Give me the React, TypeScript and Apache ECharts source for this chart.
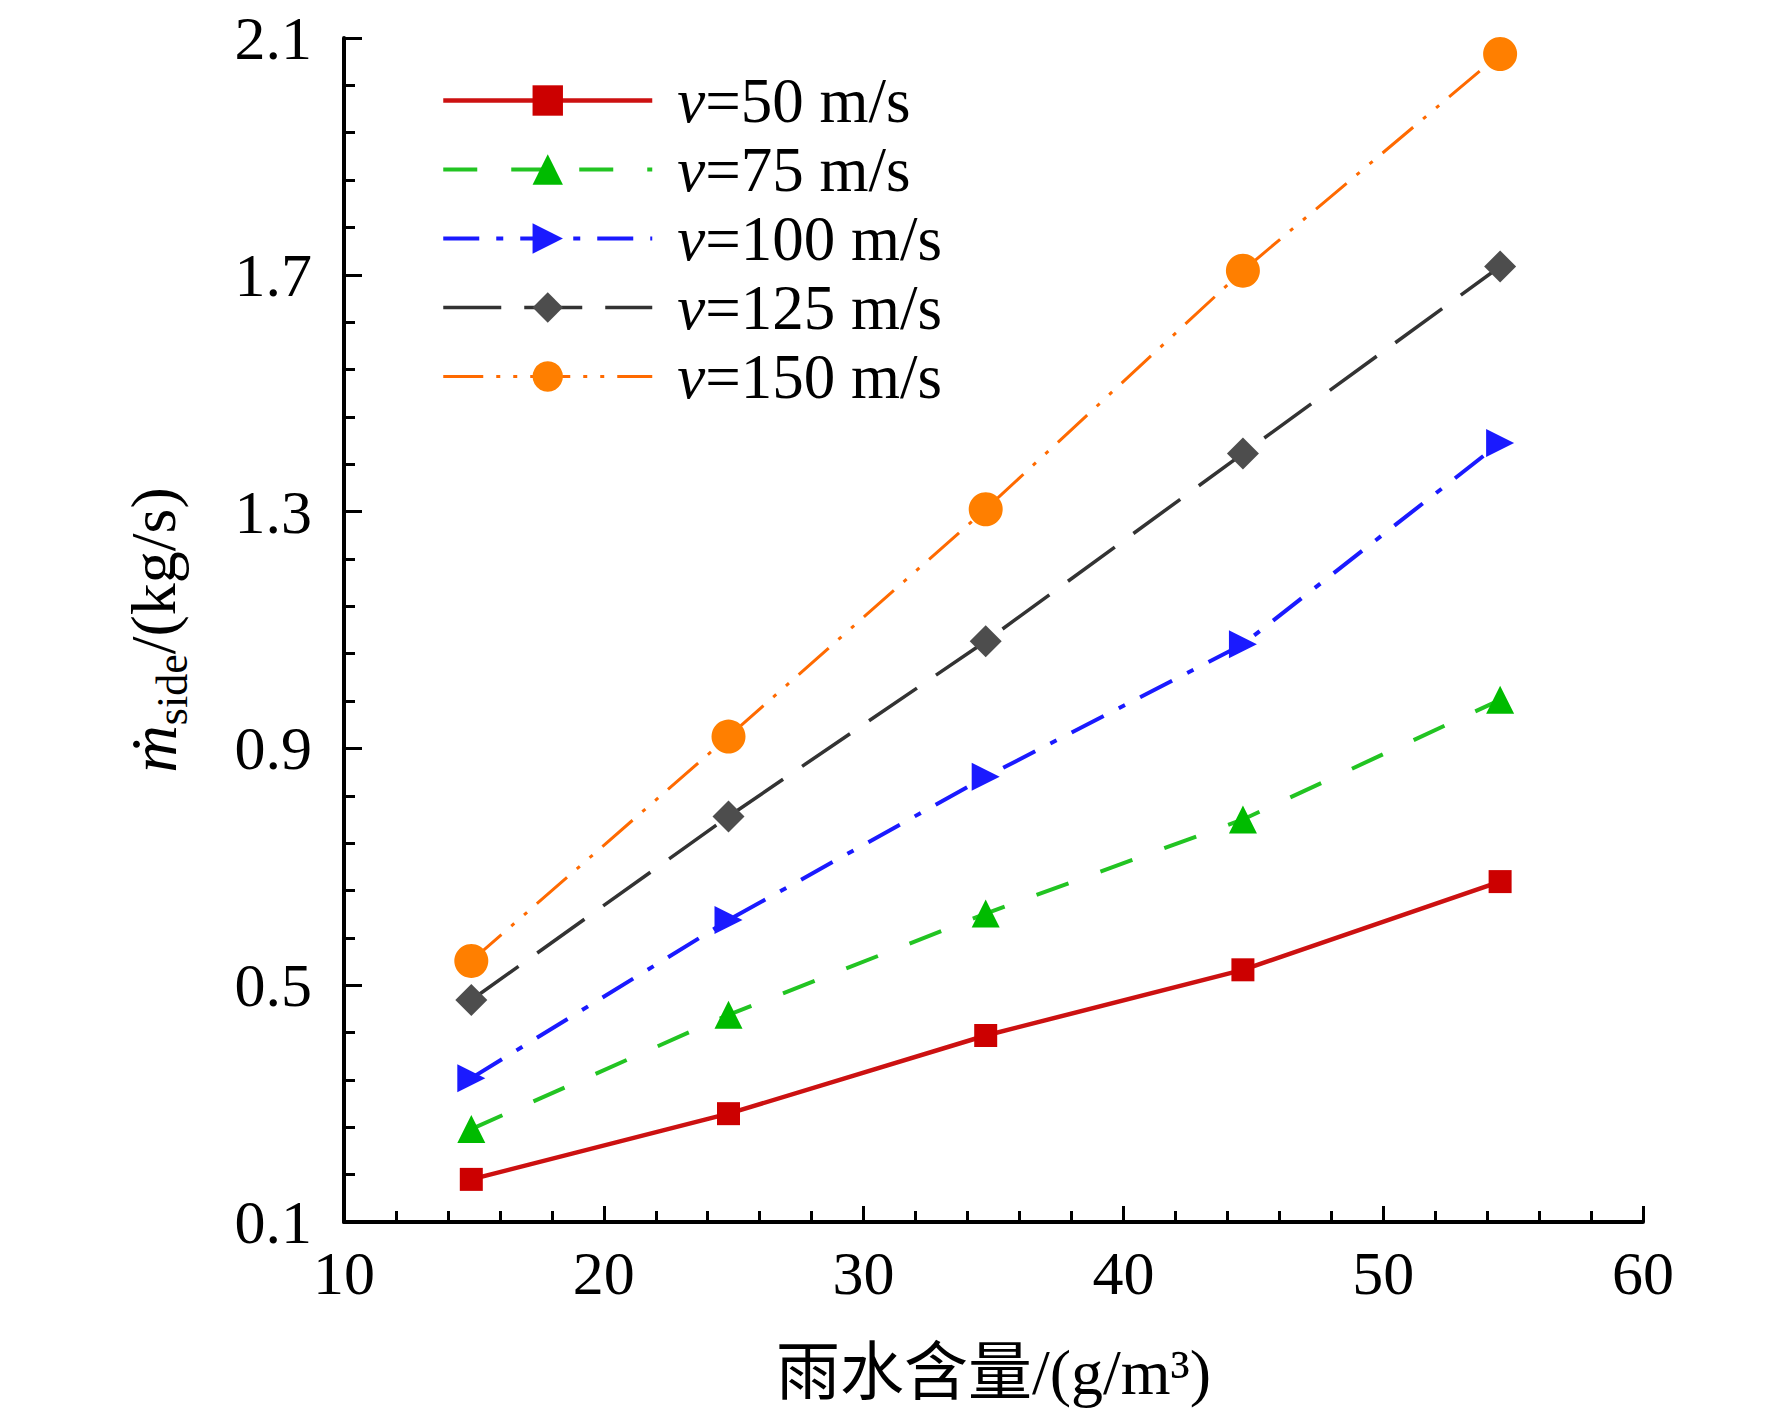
import { useEffect, useRef } from "react"
import * as echarts from "echarts"

// rain water content (g/m3)
const rainContent = [14.9, 24.8, 34.7, 44.6, 54.5]

// side mass flow (kg/s) for each velocity
const flow50 = [0.172, 0.283, 0.415, 0.526, 0.675]
const flow75 = [0.257, 0.45, 0.621, 0.78, 0.982]
const flow100 = [0.343, 0.61, 0.852, 1.076, 1.416]
const flow125 = [0.475, 0.785, 1.081, 1.398, 1.714]
const flow150 = [0.541, 0.92, 1.304, 1.707, 2.073]

const seriesNames = ["v=50 m/s", "v=75 m/s", "v=100 m/s", "v=125 m/s", "v=150 m/s"]

// y axis starts at 0.1, ticks every 0.4
const yStart = 0.1

const SERIF = '"Liberation Serif", "Times New Roman", "DejaVu Serif", serif'
const CJK = '"Liberation Serif", "Noto Sans CJK SC", serif'

export default function App() {
  const chartRef = useRef<HTMLDivElement>(null)

  useEffect(() => {
    if (!chartRef.current) return
    const chart = echarts.init(chartRef.current, undefined, { renderer: "svg" })

    const toData = (vals: number[]) => rainContent.map((x, i) => [x, vals[i] - yStart])

    const styles = [
      { data: flow50, color: "#cc0000", line: "#cc1111", symbol: "rect", size: 23, rotate: 0, type: "solid" as any, width: 4.5 },
      { data: flow75, color: "#00bb00", line: "#22c422", symbol: "triangle", size: 28, rotate: 0, type: [34, 34], width: 4 },
      { data: flow100, color: "#1a1aff", line: "#1a1aff", symbol: "triangle", size: 28, rotate: -90, type: [36, 17, 7, 17], width: 4 },
      { data: flow125, color: "#4d4d4d", line: "#333333", symbol: "diamond", size: 32, rotate: 0, type: [58, 23], width: 3.5 },
      { data: flow150, color: "#ff7f00", line: "#ff6a00", symbol: "circle", size: 34, rotate: 0, type: [40, 13, 4, 13, 4, 13], width: 3 },
    ]

    const options: echarts.EChartsOption = {
      animation: false,
      backgroundColor: "#ffffff",
      grid: { left: 344, right: 129, top: 38, bottom: 203 },
      legend: {
        orient: "vertical",
        left: 441,
        top: 69,
        padding: 0,
        itemWidth: 209,
        itemHeight: 38,
        itemGap: 6,
        lineStyle: { width: 4 },
        textStyle: {
          fontFamily: SERIF,
          fontSize: 63,
          color: "#000",
          lineHeight: 60,
          rich: {
            i: { fontFamily: SERIF, fontStyle: "italic", fontSize: 63, padding: [0, 0, 0, 20], color: "#000" },
            n: { fontFamily: SERIF, fontSize: 63, color: "#000" },
          },
        },
        formatter: (name: string) => `{i|v}{n|${name.slice(1)}}`,
        data: seriesNames.map((n, i) => ({
          name: n,
          lineStyle: { width: styles[i].width, type: styles[i].type, color: styles[i].line },
        })) as any,
      },
      xAxis: {
        type: "value",
        min: 10,
        max: 60,
        interval: 10,
        name: "雨水含量/(g/m³)",
        nameLocation: "middle",
        nameGap: 118,
        nameTextStyle: { fontFamily: CJK, fontSize: 64, color: "#000" },
        axisLine: { onZero: false, lineStyle: { color: "#000", width: 4 } },
        axisTick: { inside: true, length: 16, lineStyle: { color: "#000", width: 3 } },
        minorTick: { show: true, splitNumber: 5, length: 11, lineStyle: { color: "#000", width: 3 } },
        axisLabel: { fontFamily: SERIF, fontSize: 62, color: "#000", margin: 20 },
        splitLine: { show: false },
      },
      yAxis: {
        type: "value",
        min: 0,
        max: 2,
        interval: 0.4,
        name: "{m|ṁ}{s|side}{n|/(kg/s)}",
        nameLocation: "middle",
        nameRotate: 90,
        nameGap: 150,
        nameTextStyle: {
          color: "#000",
          rich: {
            m: { fontFamily: SERIF, fontStyle: "italic", fontSize: 66, padding: [0, 0, 8, 0], color: "#000" },
            s: { fontFamily: SERIF, fontSize: 44, verticalAlign: "bottom", color: "#000" },
            n: { fontFamily: SERIF, fontSize: 64, padding: [0, 0, 8, 0], color: "#000" },
          },
        },
        axisLine: { show: true, onZero: false, lineStyle: { color: "#000", width: 4 } },
        axisTick: { show: true, inside: true, length: 18, lineStyle: { color: "#000", width: 3 } },
        minorTick: { show: true, splitNumber: 5, length: 11, lineStyle: { color: "#000", width: 3 } },
        axisLabel: {
          fontFamily: SERIF,
          fontSize: 62,
          color: "#000",
          margin: 32,
          formatter: (val: number) => (val + yStart).toFixed(1),
        },
        splitLine: { show: false },
      },
      series: styles.map((s, i) => ({
        name: seriesNames[i],
        type: "line",
        data: toData(s.data),
        symbol: s.symbol,
        symbolSize: s.size,
        symbolRotate: s.rotate,
        showAllSymbol: true,
        itemStyle: { color: s.color, borderWidth: 0 },
        lineStyle: { color: s.line, width: s.width, type: s.type, cap: "butt" },
        z: 2 + i,
      })),
    }

    chart.setOption(options)

    const handleResize = () => chart.resize()
    window.addEventListener("resize", handleResize)
    return () => {
      window.removeEventListener("resize", handleResize)
      chart.dispose()
    }
  }, [])

  return (
    <div style={{ position: "fixed", left: 0, top: 0, width: 1772, height: 1425, background: "#fff" }}>
      <div ref={chartRef} style={{ width: "100%", height: "100%" }} />
    </div>
  )
}
